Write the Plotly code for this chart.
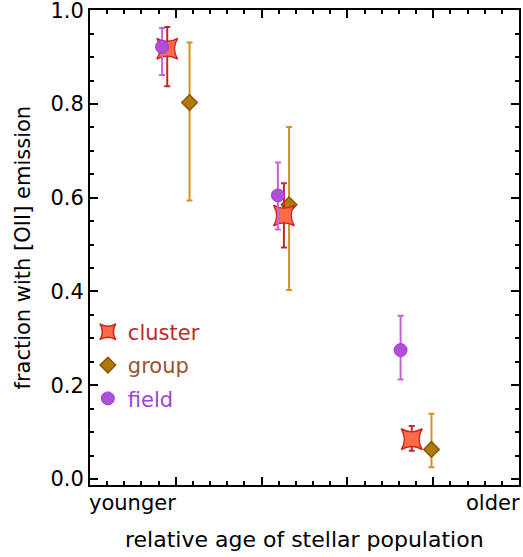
import plotly.graph_objects as go

# ---- data ----
series_names = ["cluster", "group", "field"]
cluster_x = [0.90, 2.26, 3.75]
cluster_y = [0.918, 0.562, 0.085]
cluster_err_plus = [0.046, 0.069, 0.028]
cluster_err_minus = [0.080, 0.068, 0.025]

group_x = [1.16, 2.32, 3.98]
group_y = [0.803, 0.585, 0.063]
group_err_plus = [0.128, 0.166, 0.076]
group_err_minus = [0.209, 0.182, 0.038]

field_x = [0.84, 2.19, 3.62]
field_y = [0.922, 0.605, 0.275]
field_err_plus = [0.040, 0.070, 0.073]
field_err_minus = [0.060, 0.073, 0.063]

y_ticks = [0.0, 0.2, 0.4, 0.6, 0.8, 1.0]
x_end_labels = ["younger", "older"]
x_title = "relative age of stellar population"
y_title = "fraction with [OII] emission"

FONT = "DejaVu Sans"

fig = go.Figure()

def add_series(name, rank, xs, ys, ep, em, symbol, size, fill, outline, barcol, txtcol, lw, angle=0):
    fig.add_trace(go.Scatter(
        x=xs, y=ys, mode="markers",
        name=f"<span style='color:{txtcol}'>{name}</span>",
        legendgroup=name, legendrank=rank,
        marker=dict(symbol=symbol, size=size, color=fill, angle=angle,
                    line=dict(color=outline, width=lw)),
        error_y=dict(type="data", symmetric=False, array=ep, arrayminus=em,
                     color=barcol, thickness=2, width=3),
        hoverinfo="skip",
    ))

# draw order: group, cluster, field  (field on top in reference)
add_series("group", 2, group_x, group_y, group_err_plus, group_err_minus,
           "diamond", 12, "#B07A0A", "#8A5800", "#CC9620", "#A0522D", 1.5)
add_series("cluster", 1, cluster_x, cluster_y, cluster_err_plus, cluster_err_minus,
           "star-diamond", 21, "#FF6A48", "#CC2222", "#C0282D", "#C0282D", 1.5, 45)
add_series("field", 3, field_x, field_y, field_err_plus, field_err_minus,
           "circle", 13, "#B050D8", "#9A3BE0", "#C462E0", "#A040E0", 1)

fig.update_layout(
    width=523, height=557,
    margin=dict(l=90, r=4, t=10, b=72),
    paper_bgcolor="white", plot_bgcolor="white",
    font=dict(family=FONT, size=21, color="black"),
    showlegend=True,
    legend=dict(x=-0.005, y=0.365, xanchor="left", yanchor="top",
                bgcolor="rgba(0,0,0,0)", font=dict(size=21),
                traceorder="grouped", tracegroupgap=3,
                itemsizing="trace"),
    xaxis=dict(range=[0, 5], showticklabels=False, ticks="inside",
               tickvals=[0, 1, 2, 3, 4, 5], ticklen=8, tickwidth=2,
               tickcolor="black", showline=True, linewidth=2, linecolor="black",
               mirror="allticks", showgrid=False, zeroline=False,
               minor=dict(dtick=0.2, ticks="inside", ticklen=4, tickwidth=2,
                          tickcolor="black", showgrid=False)),
    yaxis=dict(range=[-0.0128, 1.0005], tickvals=y_ticks,
               ticktext=[f"{v:.1f}" for v in y_ticks],
               ticklabeloverflow="allow",
               ticks="inside", ticklen=8, tickwidth=2, tickcolor="black",
               showline=True, linewidth=2, linecolor="black",
               mirror="allticks", showgrid=False, zeroline=False,
               automargin=False,
               minor=dict(dtick=0.05, tick0=0, ticks="inside", ticklen=4,
                          tickwidth=2, tickcolor="black", showgrid=False)),
)

fig.add_annotation(text=y_title, xref="paper", x=0, yref="paper", y=0.5,
                   xanchor="center", yanchor="middle", xshift=-68, textangle=-90,
                   showarrow=False, font=dict(size=21))
fig.add_annotation(text=x_end_labels[0], xref="x", x=0, yref="paper", y=0,
                   xanchor="left", yanchor="top", yshift=-4, showarrow=False,
                   font=dict(size=21), xshift=-3)
fig.add_annotation(text=x_end_labels[1], xref="x", x=5, yref="paper", y=0,
                   xanchor="right", yanchor="top", yshift=-4, showarrow=False,
                   font=dict(size=21), xshift=3)
fig.add_annotation(text=x_title, xref="paper", x=0.5, yref="paper", y=0,
                   xanchor="center", yanchor="top", yshift=-40, showarrow=False,
                   font=dict(size=22))

fig.write_html("out.html", config={"displayModeBar": False},
               post_script="document.body.style.margin='0';")
